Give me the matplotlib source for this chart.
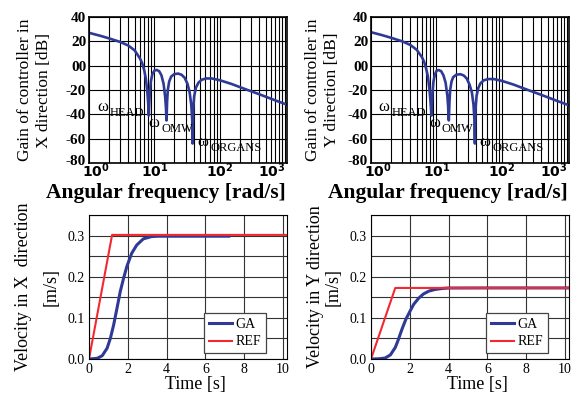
import matplotlib
matplotlib.use("Agg")
import matplotlib.pyplot as plt
import matplotlib.transforms as mtransforms
from matplotlib.ticker import FixedLocator, NullFormatter, MultipleLocator

plt.rcParams["font.family"] = ["Liberation Serif", "DejaVu Serif"]

# --- Bode gain data ---
omega_x = [1, 1.5, 2, 3, 4, 5, 6, 6.5, 7, 7.4, 7.8, 8.0, 8.15, 8.2, 8.3, 8.5, 8.8,
           9.3, 10, 10.8, 11.8, 12.8, 13.8, 14.6, 15.0, 15.2, 15.3, 15.4, 15.6, 16.0,
           16.8, 18, 20, 23, 26, 29, 32, 34.5, 36.5, 37.8, 38.3, 38.6, 39.2, 40.5,
           43, 47, 53, 62, 75, 100, 150, 250, 400, 700, 1050]
gain_x = [27, 24.5, 22.5, 19.5, 16.5, 12.5, 6, 2, -4, -11, -22, -30, -38, -41, -33,
          -22, -13, -7, -4, -3.5, -4.5, -8, -15, -26, -35, -42, -45, -40, -30, -20,
          -13, -9, -7, -6.5, -7.5, -10, -15, -22, -32, -45, -64, -50, -35, -25,
          -18, -14, -11.5, -10.5, -10.5, -12, -15, -19.5, -23.5, -28.5, -32]

omega_y = [1, 1.5, 2, 3, 4, 5, 6, 6.5, 7, 7.4, 7.8, 8.1, 8.3, 8.4, 8.5, 8.7, 9.0,
           9.5, 10.1, 10.8, 11.8, 12.8, 13.8, 14.7, 15.1, 15.3, 15.45, 15.6, 15.8,
           16.2, 17, 18, 20, 23, 26, 29, 32, 34.8, 36.8, 38.1, 38.7, 39.0, 39.6,
           41, 43.5, 47, 53, 62, 75, 100, 150, 250, 400, 700, 1050]
gain_y = [27.5, 25, 23, 20, 17, 13, 7, 3, -3, -9, -19, -29, -37, -41, -33, -22,
          -13, -7, -4, -3.6, -4.5, -8, -14, -25, -34, -41, -45, -39, -30, -20,
          -13, -9.5, -7.5, -7, -8, -10.5, -15.5, -22, -32, -45, -64, -50, -35,
          -25, -18.5, -14.5, -12, -11, -11, -12.5, -15.5, -20, -24, -29, -32.5]

gain_ticks = [-80, -60, -40, -20, 0, 20, 40]
gain_ticklabels = ["-80", "-60", "-40", "-20", "00", "20", "40"]
freq_ticks = [1, 10, 100, 1000]
freq_ticklabels = [r"$\mathbf{10^{0}}$", r"$\mathbf{10^{1}}$",
                   r"$\mathbf{10^{2}}$", r"$\mathbf{10^{3}}$"]

# --- velocity step responses ---
t_ga_x = [0, 0.42, 0.68, 0.93, 1.10, 1.27, 1.44, 1.61, 1.78, 1.95, 2.2, 2.46, 2.8,
          3.22, 3.56, 5.0, 7.2]
v_ga_x = [0, 0.0016, 0.008, 0.026, 0.05, 0.083, 0.123, 0.164, 0.196, 0.225, 0.257,
          0.277, 0.292, 0.2976, 0.2985, 0.2985, 0.2985]
t_ref_x = [0, 1.19, 10.3]
v_ref_x = [0, 0.3016, 0.3016]

t_ga_y = [0, 0.4, 0.73, 1.0, 1.25, 1.4, 1.6, 1.8, 2.03, 2.2, 2.46, 2.7, 2.98, 3.3,
          3.67, 4.0, 6.0, 10.3]
v_ga_y = [0, 0.0005, 0.0024, 0.01, 0.028, 0.046, 0.073, 0.097, 0.118, 0.133, 0.148,
          0.158, 0.165, 0.169, 0.1715, 0.1725, 0.1727, 0.1727]
t_ref_y = [0, 1.25, 10.3]
v_ref_y = [0, 0.1727, 0.1727]

BLUE = "#2e3a96"
RED = "#f5282f"
W, H = 571, 394

fig = plt.figure(figsize=(W / 100, H / 100), dpi=100)


def px_axes(left, top, right, bottom):
    return fig.add_axes([left / W, 1 - bottom / H, (right - left) / W, (bottom - top) / H])


def shift(label, dx, dy):
    # nudge a tick label by a few pixels
    label.set_transform(label.get_transform() +
                        mtransforms.ScaledTranslation(dx / 100, dy / 100, fig.dpi_scale_trans))


def notch_label(ax, w, g, sub):
    ax.text(w, g, "ω", fontsize=12, ha="left", va="baseline")
    ax.annotate(sub, (w, g), xytext=(9.4, -3.6), textcoords="offset points",
                fontsize=9, ha="left", va="baseline")


def bode(ax, omega, gain, ylabel, labels, pad):
    ax.semilogx(omega, gain, color=BLUE, lw=1.9)
    ax.set_xlim(1, 1060)
    ax.set_ylim(-80, 40)
    ax.yaxis.set_major_locator(FixedLocator(gain_ticks))
    ax.set_yticklabels(gain_ticklabels, fontsize=11, fontweight="bold")
    ax.xaxis.set_major_locator(FixedLocator(freq_ticks))
    ax.set_xticklabels(freq_ticklabels, fontsize=10)
    ax.xaxis.set_minor_formatter(NullFormatter())
    ax.grid(which="both", color="black", lw=0.8)
    ax.tick_params(axis="y", which="both", length=0, pad=2)
    ax.tick_params(axis="x", which="both", length=0, pad=-1)
    # first and last frequency labels sit inside the axis span
    tl = ax.get_xticklabels()
    shift(tl[0], 7, 0)
    tl[-1].set_horizontalalignment("right")
    shift(ax.get_yticklabels()[0], 0, 3)
    ax.set_xlabel("Angular frequency [rad/s]", fontsize=15.5, fontweight="bold")
    ax.xaxis.set_label_coords(0.39, -0.14)
    ax.set_ylabel(ylabel, fontsize=12.5, labelpad=pad, linespacing=1.25)
    for w, g, sub in labels:
        notch_label(ax, w, g, sub)
    for s in ax.spines.values():
        s.set_linewidth(1.2)


def velocity(ax, t_ga, v_ga, t_ref, v_ref, ylabel, spacing):
    ax.plot(t_ga, v_ga, color=BLUE, lw=2.2, label="GA")
    ax.plot(t_ref, v_ref, color=RED, lw=1.5, label="REF")
    ax.set_xlim(0, 10.2)
    ax.set_ylim(0, 0.35)
    ax.xaxis.set_major_locator(MultipleLocator(2))
    ax.yaxis.set_major_locator(MultipleLocator(0.1))
    ax.yaxis.set_minor_locator(MultipleLocator(0.05))
    ax.yaxis.set_major_formatter(plt.FormatStrFormatter("%.1f"))
    ax.grid(which="both", color="#333333", lw=0.8)
    ax.tick_params(which="both", length=0, labelsize=10, pad=3)
    ax.set_xlabel("Time [s]", fontsize=13)
    ax.xaxis.set_label_coords(0.54, -0.12)
    ax.set_ylabel(ylabel, fontsize=13, labelpad=6, linespacing=spacing)
    leg = ax.legend(loc="lower right", bbox_to_anchor=(0.895, 0.04), fontsize=10,
                    fancybox=False, framealpha=1, edgecolor="#444444",
                    handlelength=1.6, handletextpad=0.3, borderpad=0.35,
                    labelspacing=0.35, borderaxespad=0)
    leg.get_frame().set_linewidth(0.9)


ax1 = px_axes(89, 17, 287, 163)
bode(ax1, omega_x, gain_x, "Gain of controller in\nX direction [dB]",
     [(1.33, -37.3, "HEAD"), (7.96, -50.8, "OMW"), (44.6, -66.3, "ORGANS")], 10)

ax2 = px_axes(371, 17, 569, 163)
bode(ax2, omega_y, gain_y, "Gain of controller in\nY direction [dB]",
     [(1.29, -37.3, "HEAD"), (7.67, -50.8, "OMW"), (44.6, -66.3, "ORGANS")], 6)

ax3 = px_axes(89, 215, 287, 359)
velocity(ax3, t_ga_x, v_ga_x, t_ref_x, v_ref_x, "Velocity in X  direction\n[m/s]", 1.75)

ax4 = px_axes(371, 215, 569, 359)
velocity(ax4, t_ga_y, v_ga_y, t_ref_y, v_ref_y, "Velocity in Y direction\n[m/s]", 1.0)

fig.savefig("out.png", dpi=100)
